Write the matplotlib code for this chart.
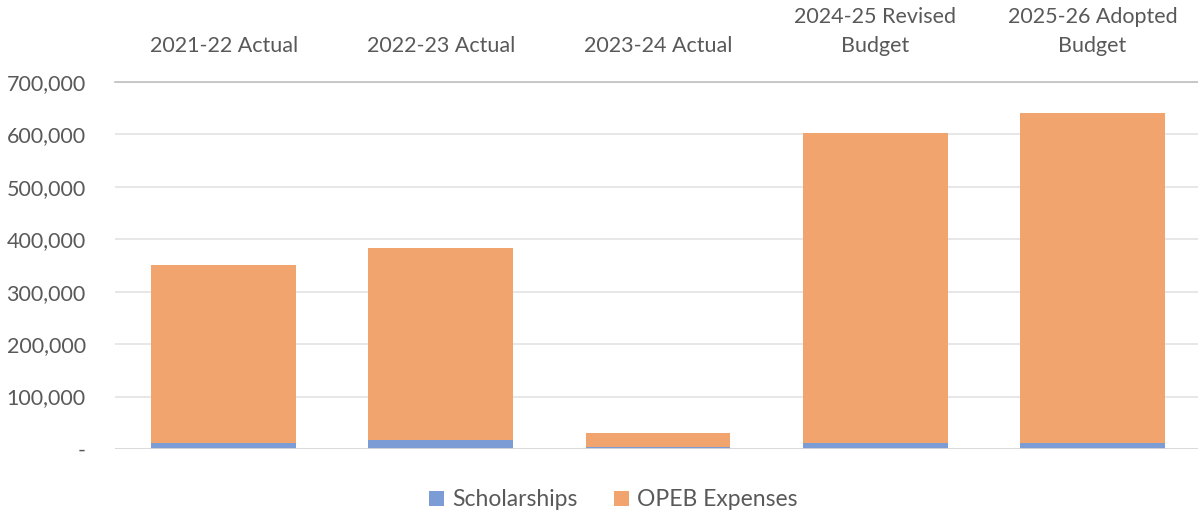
import numpy as np
import matplotlib.pyplot as plt
from matplotlib.ticker import FuncFormatter

categories = ['2021-22 Actual', '2022-23 Actual', '2023-24 Actual',
              '2024-25 Revised\nBudget', '2025-26 Adopted\nBudget']
scholarships = [10500, 17000, 3000, 11000, 11000]
opeb = [340500, 366000, 27500, 592000, 630000]

plt.rcParams['font.family'] = ['Lato', 'DejaVu Sans']

f = plt.figure(figsize=(11.98, 5.16), dpi=100)
ax = f.add_axes([115 / 1198, 1 - 449 / 516, (1201 - 115) / 1198, (449 - 82) / 516])

x = np.arange(len(categories))
w = 0.667
ax.bar(x, scholarships, w, color='#7C9CD5', label='Scholarships', zorder=3)
ax.bar(x, opeb, w, bottom=scholarships, color='#F2A46F', label='OPEB Expenses', zorder=3)

ax.set_xlim(-0.5, len(categories) - 0.5)
ax.set_ylim(0, 700000)
ax.set_yticks(np.arange(0, 700001, 100000))
ax.yaxis.set_major_formatter(FuncFormatter(lambda v, p: '-' if v == 0 else f'{int(v):,}'))
ax.grid(axis='y', color='#E3E3E3', linewidth=1.2, zorder=0)

ax.xaxis.tick_top()
ax.set_xticks(x)
ax.set_xticklabels(categories, linespacing=1.55)
ax.tick_params(axis='x', length=0, pad=19, labelsize=15.5, labelcolor='#595959')
ax.tick_params(axis='y', length=0, pad=21, labelsize=15.5, labelcolor='#595959')
for s in ['left', 'right', 'bottom']:
    ax.spines[s].set_visible(False)
ax.spines['top'].set_color('#BFBFBF')
ax.spines['top'].set_linewidth(1.2)
ax.axhline(0, color='#D9D9D9', linewidth=2, zorder=4)

ax.legend(loc='center', bbox_to_anchor=(0.512, 1 - 500 / 516), bbox_transform=f.transFigure,
          ncol=2, frameon=False, fontsize=16.5, labelcolor='#595959',
          handlelength=0.65, handleheight=0.65, handletextpad=0.35, columnspacing=1.6)

plt.savefig('out.png', dpi=100)
